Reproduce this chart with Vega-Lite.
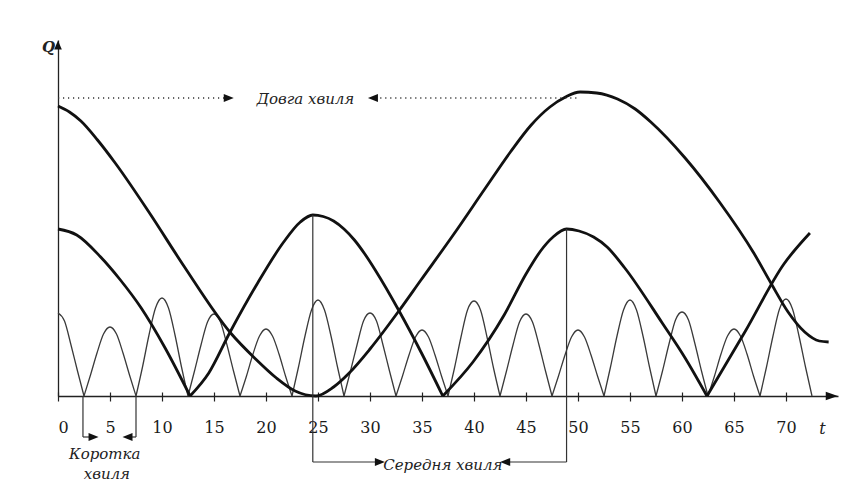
{
  "$schema": "https://vega.github.io/schema/vega-lite/v6.json",
  "width": 780,
  "height": 356,
  "autosize": "none",
  "padding": {"left": 58, "top": 40, "right": 15, "bottom": 94},
  "background": "white",
  "config": {"view": {"stroke": null}},
  "datasets": {
    "long": [
      {"t": 0, "Q": 290}, {"t": 1.1, "Q": 284}, {"t": 2.2, "Q": 275}, {"t": 3.8, "Q": 256}, {"t": 5.5, "Q": 233},
      {"t": 8.8, "Q": 183}, {"t": 12.1, "Q": 130}, {"t": 16.6, "Q": 63}, {"t": 19, "Q": 37}, {"t": 21, "Q": 18},
      {"t": 22.8, "Q": 5}, {"t": 24.8, "Q": 0}, {"t": 26.5, "Q": 9}, {"t": 28, "Q": 23},
      {"t": 30, "Q": 47}, {"t": 32.7, "Q": 84}, {"t": 34.9, "Q": 116}, {"t": 38, "Q": 161},
      {"t": 41.1, "Q": 208}, {"t": 43.5, "Q": 244}, {"t": 45.5, "Q": 271}, {"t": 47.3, "Q": 289}, {"t": 48.8, "Q": 299},
      {"t": 50.2, "Q": 304}, {"t": 51.8, "Q": 303}, {"t": 53.8, "Q": 297}, {"t": 55.5, "Q": 287}, {"t": 57, "Q": 274},
      {"t": 60.3, "Q": 238}, {"t": 63.6, "Q": 194}, {"t": 66.9, "Q": 143}, {"t": 68.6, "Q": 112}, {"t": 70.2, "Q": 84},
      {"t": 71.8, "Q": 64}, {"t": 73.2, "Q": 55}, {"t": 74.1, "Q": 54}
    ],
    "medium": [
      {"seg": "a", "t": 0, "Q": 167}, {"seg": "a", "t": 1.8, "Q": 161}, {"seg": "a", "t": 4.1, "Q": 139},
      {"seg": "a", "t": 6.0, "Q": 116}, {"seg": "a", "t": 8.0, "Q": 88}, {"seg": "a", "t": 10.3, "Q": 48},
      {"seg": "a", "t": 12.7, "Q": 0},
      {"seg": "b", "t": 12.7, "Q": 0}, {"seg": "b", "t": 14.5, "Q": 23}, {"seg": "b", "t": 16.5, "Q": 63},
      {"seg": "b", "t": 19.2, "Q": 113}, {"seg": "b", "t": 21.7, "Q": 154}, {"seg": "b", "t": 23.3, "Q": 174},
      {"seg": "b", "t": 24.5, "Q": 181}, {"seg": "b", "t": 25.5, "Q": 179.5}, {"seg": "b", "t": 26.5, "Q": 175},
      {"seg": "b", "t": 27.5, "Q": 167}, {"seg": "b", "t": 28.5, "Q": 156}, {"seg": "b", "t": 29.5, "Q": 142},
      {"seg": "b", "t": 30.5, "Q": 126}, {"seg": "b", "t": 32.8, "Q": 85}, {"seg": "b", "t": 35.0, "Q": 42},
      {"seg": "b", "t": 37.0, "Q": 0},
      {"seg": "c", "t": 37.0, "Q": 0}, {"seg": "c", "t": 39.9, "Q": 34}, {"seg": "c", "t": 42.9, "Q": 81},
      {"seg": "c", "t": 45.0, "Q": 122}, {"seg": "c", "t": 46.4, "Q": 145}, {"seg": "c", "t": 47.6, "Q": 159},
      {"seg": "c", "t": 48.9, "Q": 167}, {"seg": "c", "t": 50.1, "Q": 165}, {"seg": "c", "t": 51.5, "Q": 159},
      {"seg": "c", "t": 52.8, "Q": 149}, {"seg": "c", "t": 54.5, "Q": 128}, {"seg": "c", "t": 58.1, "Q": 73},
      {"seg": "c", "t": 60.3, "Q": 38}, {"seg": "c", "t": 62.4, "Q": 0},
      {"seg": "d", "t": 62.4, "Q": 0}, {"seg": "d", "t": 66.1, "Q": 65}, {"seg": "d", "t": 69.8, "Q": 132},
      {"seg": "d", "t": 72.3, "Q": 163}
    ],
    "short": [
      {"seg": 0, "t": 0, "Q": 83}, {"seg": 0, "t": 0.625, "Q": 75}, {"seg": 0, "t": 1.25, "Q": 51}, {"seg": 0, "t": 1.875, "Q": 25}, {"seg": 0, "t": 2.5, "Q": 0},
      {"seg": 1, "t": 2.5, "Q": 0}, {"seg": 1, "t": 3.125, "Q": 21}, {"seg": 1, "t": 3.75, "Q": 43}, {"seg": 1, "t": 4.375, "Q": 62}, {"seg": 1, "t": 5, "Q": 69}, {"seg": 1, "t": 5.625, "Q": 62}, {"seg": 1, "t": 6.25, "Q": 43}, {"seg": 1, "t": 6.875, "Q": 21}, {"seg": 1, "t": 7.5, "Q": 0},
      {"seg": 2, "t": 7.5, "Q": 0}, {"seg": 2, "t": 8.125, "Q": 29}, {"seg": 2, "t": 8.75, "Q": 61}, {"seg": 2, "t": 9.375, "Q": 88}, {"seg": 2, "t": 10, "Q": 98}, {"seg": 2, "t": 10.625, "Q": 88}, {"seg": 2, "t": 11.25, "Q": 61}, {"seg": 2, "t": 11.875, "Q": 29}, {"seg": 2, "t": 12.5, "Q": 0},
      {"seg": 3, "t": 12.5, "Q": 0}, {"seg": 3, "t": 13.125, "Q": 25}, {"seg": 3, "t": 13.75, "Q": 51}, {"seg": 3, "t": 14.375, "Q": 74}, {"seg": 3, "t": 15, "Q": 82}, {"seg": 3, "t": 15.625, "Q": 74}, {"seg": 3, "t": 16.25, "Q": 51}, {"seg": 3, "t": 16.875, "Q": 25}, {"seg": 3, "t": 17.5, "Q": 0},
      {"seg": 4, "t": 17.5, "Q": 0}, {"seg": 4, "t": 18.125, "Q": 20}, {"seg": 4, "t": 18.75, "Q": 42}, {"seg": 4, "t": 19.375, "Q": 60}, {"seg": 4, "t": 20, "Q": 67}, {"seg": 4, "t": 20.625, "Q": 60}, {"seg": 4, "t": 21.25, "Q": 42}, {"seg": 4, "t": 21.875, "Q": 20}, {"seg": 4, "t": 22.5, "Q": 0},
      {"seg": 5, "t": 22.5, "Q": 0}, {"seg": 5, "t": 23.125, "Q": 29}, {"seg": 5, "t": 23.75, "Q": 60}, {"seg": 5, "t": 24.375, "Q": 86}, {"seg": 5, "t": 25, "Q": 96}, {"seg": 5, "t": 25.625, "Q": 86}, {"seg": 5, "t": 26.25, "Q": 60}, {"seg": 5, "t": 26.875, "Q": 29}, {"seg": 5, "t": 27.5, "Q": 0},
      {"seg": 6, "t": 27.5, "Q": 0}, {"seg": 6, "t": 28.125, "Q": 25}, {"seg": 6, "t": 28.75, "Q": 51}, {"seg": 6, "t": 29.375, "Q": 75}, {"seg": 6, "t": 30, "Q": 83}, {"seg": 6, "t": 30.625, "Q": 75}, {"seg": 6, "t": 31.25, "Q": 51}, {"seg": 6, "t": 31.875, "Q": 25}, {"seg": 6, "t": 32.5, "Q": 0},
      {"seg": 7, "t": 32.5, "Q": 0}, {"seg": 7, "t": 33.125, "Q": 20}, {"seg": 7, "t": 33.75, "Q": 41}, {"seg": 7, "t": 34.375, "Q": 59}, {"seg": 7, "t": 35, "Q": 66}, {"seg": 7, "t": 35.625, "Q": 59}, {"seg": 7, "t": 36.25, "Q": 41}, {"seg": 7, "t": 36.875, "Q": 20}, {"seg": 7, "t": 37.5, "Q": 0},
      {"seg": 8, "t": 37.5, "Q": 0}, {"seg": 8, "t": 38.125, "Q": 28}, {"seg": 8, "t": 38.75, "Q": 59}, {"seg": 8, "t": 39.375, "Q": 86}, {"seg": 8, "t": 40, "Q": 95}, {"seg": 8, "t": 40.625, "Q": 86}, {"seg": 8, "t": 41.25, "Q": 59}, {"seg": 8, "t": 41.875, "Q": 28}, {"seg": 8, "t": 42.5, "Q": 0},
      {"seg": 9, "t": 42.5, "Q": 0}, {"seg": 9, "t": 43.125, "Q": 25}, {"seg": 9, "t": 43.75, "Q": 51}, {"seg": 9, "t": 44.375, "Q": 74}, {"seg": 9, "t": 45, "Q": 82}, {"seg": 9, "t": 45.625, "Q": 74}, {"seg": 9, "t": 46.25, "Q": 51}, {"seg": 9, "t": 46.875, "Q": 25}, {"seg": 9, "t": 47.5, "Q": 0},
      {"seg": 10, "t": 47.5, "Q": 0}, {"seg": 10, "t": 48.125, "Q": 20}, {"seg": 10, "t": 48.75, "Q": 41}, {"seg": 10, "t": 49.375, "Q": 59}, {"seg": 10, "t": 50, "Q": 66}, {"seg": 10, "t": 50.625, "Q": 59}, {"seg": 10, "t": 51.25, "Q": 41}, {"seg": 10, "t": 51.875, "Q": 20}, {"seg": 10, "t": 52.5, "Q": 0},
      {"seg": 11, "t": 52.5, "Q": 0}, {"seg": 11, "t": 53.125, "Q": 29}, {"seg": 11, "t": 53.75, "Q": 60}, {"seg": 11, "t": 54.375, "Q": 86}, {"seg": 11, "t": 55, "Q": 96}, {"seg": 11, "t": 55.625, "Q": 86}, {"seg": 11, "t": 56.25, "Q": 60}, {"seg": 11, "t": 56.875, "Q": 29}, {"seg": 11, "t": 57.5, "Q": 0},
      {"seg": 12, "t": 57.5, "Q": 0}, {"seg": 12, "t": 58.125, "Q": 25}, {"seg": 12, "t": 58.75, "Q": 52}, {"seg": 12, "t": 59.375, "Q": 76}, {"seg": 12, "t": 60, "Q": 84}, {"seg": 12, "t": 60.625, "Q": 76}, {"seg": 12, "t": 61.25, "Q": 52}, {"seg": 12, "t": 61.875, "Q": 25}, {"seg": 12, "t": 62.5, "Q": 0},
      {"seg": 13, "t": 62.5, "Q": 0}, {"seg": 13, "t": 63.125, "Q": 20}, {"seg": 13, "t": 63.75, "Q": 42}, {"seg": 13, "t": 64.375, "Q": 60}, {"seg": 13, "t": 65, "Q": 67}, {"seg": 13, "t": 65.625, "Q": 60}, {"seg": 13, "t": 66.25, "Q": 42}, {"seg": 13, "t": 66.875, "Q": 20}, {"seg": 13, "t": 67.5, "Q": 0},
      {"seg": 14, "t": 67.5, "Q": 0}, {"seg": 14, "t": 68.125, "Q": 29}, {"seg": 14, "t": 68.75, "Q": 60}, {"seg": 14, "t": 69.375, "Q": 87}, {"seg": 14, "t": 70, "Q": 97}, {"seg": 14, "t": 70.625, "Q": 87}, {"seg": 14, "t": 71.25, "Q": 60}, {"seg": 14, "t": 71.875, "Q": 29}, {"seg": 14, "t": 72.5, "Q": 0}
    ],
    "vrules": [
      {"t": 24.5, "Q": 181, "Q2": -66}, {"t": 48.9, "Q": 167, "Q2": -66},
      {"t": 2.4, "Q": 0, "Q2": -41}, {"t": 7.5, "Q": 0, "Q2": -41}
    ],
    "hrules": [
      {"t": 24.5, "t2": 31.0, "Q": -66}, {"t": 48.9, "t2": 43.0, "Q": -66},
      {"t": 2.4, "t2": 3.4, "Q": -41}, {"t": 7.5, "t2": 6.7, "Q": -41}
    ],
    "dotted": [
      {"t": 0, "t2": 16.2, "Q": 298}, {"t": 30.5, "t2": 50.2, "Q": 298}
    ],
    "arrowR": [
      {"t": 16.42, "Q": 298}, {"t": 30.95, "Q": -66}, {"t": 3.42, "Q": -41}
    ],
    "arrowL": [
      {"t": 30.28, "Q": 298}, {"t": 43.0, "Q": -66}, {"t": 6.68, "Q": -41}
    ],
    "arrowUp": [{"t": 0, "Q": 351}],
    "arrowAxis": [{"t": 74.4, "Q": 0}],
    "labels": [
      {"t": 23.8, "Q": 297, "text": "Довга хвиля"},
      {"t": 37.0, "Q": -69, "text": "Середня хвиля"},
      {"t": 4.5, "Q": -58, "text": "Коротка"},
      {"t": 4.7, "Q": -78, "text": "хвиля"}
    ]
  },
  "encoding": {
    "x": {
      "field": "t", "type": "quantitative",
      "scale": {"domain": [0, 75], "nice": false, "zero": false},
      "axis": {
        "orient": "bottom", "values": [0, 5, 10, 15, 20, 25, 30, 35, 40, 45, 50, 55, 60, 65, 70],
        "offset": -4, "domain": false, "grid": false,
        "tickSize": 9, "tickColor": "#222", "tickWidth": 1.2,
        "labelFont": "DejaVu Serif", "labelFontSize": 16, "labelColor": "#1a1a1a", "labelPadding": 18,
        "title": "t", "titleFont": "DejaVu Serif", "titleFontStyle": "italic", "titleFontWeight": "normal",
        "titleFontSize": 16, "titleColor": "#222", "titleX": 764, "titleY": 36,
        "titleAlign": "center", "titleBaseline": "middle"
      }
    },
    "y": {
      "field": "Q", "type": "quantitative",
      "scale": {"domain": [0, 356], "nice": false, "zero": false},
      "axis": {
        "orient": "left", "values": [0], "grid": true, "gridColor": "#222", "gridWidth": 1.3, "gridOpacity": 1,
        "domain": true, "domainColor": "#222", "domainWidth": 1.3, "ticks": false, "labels": false,
        "title": "Q", "titleAngle": 0, "titleX": -10, "titleY": 6,
        "titleFont": "DejaVu Serif", "titleFontStyle": "italic", "titleFontWeight": "bold",
        "titleFontSize": 15, "titleColor": "#222", "titleAlign": "center", "titleBaseline": "middle"
      }
    }
  },
  "layer": [
    {
      "data": {"name": "short"},
      "mark": {"type": "line", "interpolate": "monotone", "color": "#3a3a3a", "strokeWidth": 1.3},
      "encoding": {"detail": {"field": "seg", "type": "nominal"}}
    },
    {
      "data": {"name": "medium"},
      "mark": {"type": "line", "interpolate": "monotone", "color": "#111", "strokeWidth": 2.8},
      "encoding": {"detail": {"field": "seg", "type": "nominal"}}
    },
    {
      "data": {"name": "long"},
      "mark": {"type": "line", "interpolate": "monotone", "color": "#111", "strokeWidth": 2.8},
      "encoding": {}
    },
    {
      "data": {"name": "vrules"},
      "mark": {"type": "rule", "color": "#333", "strokeWidth": 1.2},
      "encoding": {"y2": {"field": "Q2"}}
    },
    {
      "data": {"name": "hrules"},
      "mark": {"type": "rule", "color": "#333", "strokeWidth": 1.2},
      "encoding": {"x2": {"field": "t2"}}
    },
    {
      "data": {"name": "dotted"},
      "mark": {"type": "rule", "color": "#333", "strokeWidth": 1.5, "strokeDash": [1.2, 3.8]},
      "encoding": {"x2": {"field": "t2"}}
    },
    {
      "data": {"name": "arrowR"},
      "mark": {"type": "point", "shape": "M1,0L-1,-0.8L-1,0.8Z", "filled": true, "size": 100, "color": "#111", "opacity": 1, "strokeWidth": 0}
    },
    {
      "data": {"name": "arrowL"},
      "mark": {"type": "point", "shape": "M-1,0L1,-0.8L1,0.8Z", "filled": true, "size": 100, "color": "#111", "opacity": 1, "strokeWidth": 0}
    },
    {
      "data": {"name": "arrowUp"},
      "mark": {"type": "point", "shape": "M0,-1L-0.85,1L0.85,1Z", "filled": true, "size": 81, "color": "#111", "opacity": 1, "strokeWidth": 0}
    },
    {
      "data": {"name": "arrowAxis"},
      "mark": {"type": "point", "shape": "M1,0L-1,-0.7L-1,0.7Z", "filled": true, "size": 144, "color": "#111", "opacity": 1, "strokeWidth": 0}
    },
    {
      "data": {"name": "labels"},
      "mark": {"type": "text", "font": "DejaVu Serif", "fontStyle": "italic", "fontSize": 15, "color": "#222", "align": "center", "baseline": "middle"},
      "encoding": {"text": {"field": "text", "type": "nominal"}}
    }
  ]
}
